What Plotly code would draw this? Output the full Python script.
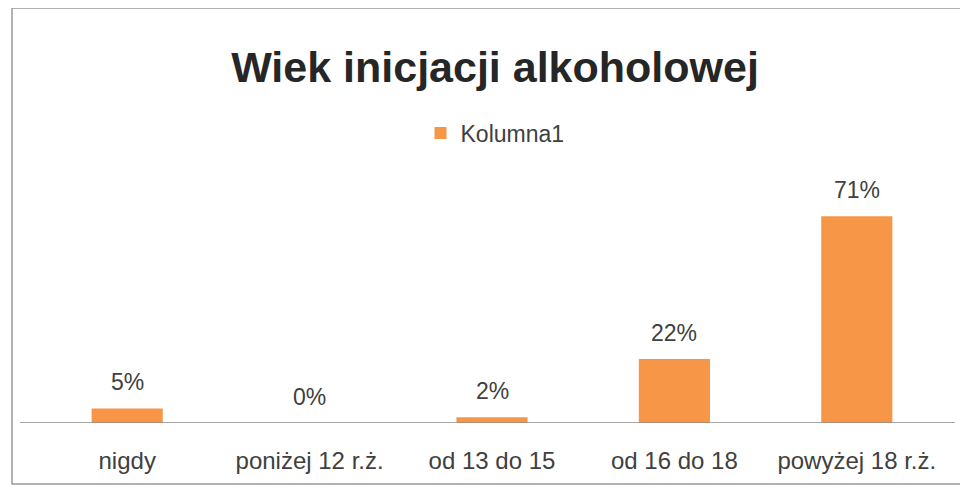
import plotly.graph_objects as go

categories = ["nigdy", "poniżej 12 r.ż.", "od 13 do 15", "od 16 do 18", "powyżej 18 r.ż."]
values = [5, 0, 2, 22, 71]
labels = ["5%", "0%", "2%", "22%", "71%"]
series_name = "Kolumna1"
title_text = "Wiek inicjacji alkoholowej"

# page body has an 8px margin, so the figure is drawn 8px in from the top-left
W, H = 960, 480
L, R, T, B = 28, 20, 182, 65
pw, ph = W - L - R, H - T - B
FONT = "Liberation Sans, Arial, sans-serif"

def px_x(x):
    return (x - L) / pw

def px_y(y):
    return (H - B - y) / ph

fig = go.Figure()
fig.add_trace(go.Bar(
    x=categories, y=values, name=series_name,
    marker=dict(color="#F79646", line=dict(width=0)),
    width=0.39,
    showlegend=True,
))

for c, v, t in zip(categories, values, labels):
    fig.add_annotation(x=c, y=v, text=t, showarrow=False, xref="x", yref="y",
                       yanchor="middle", yshift=26,
                       font=dict(family=FONT, size=23, color="#404040"))

fig.update_layout(
    width=W, height=H,
    margin=dict(l=L, r=R, t=T, b=B),
    paper_bgcolor="white", plot_bgcolor="white",
    title=dict(text="<b>" + title_text + "</b>", x=px_x(487), xref="paper", xanchor="center",
               y=1 - 59 / H, yref="container", yanchor="middle",
               font=dict(family=FONT, size=43, color="#262626")),
    legend=dict(orientation="h", x=px_x(487), xanchor="center", y=1 - 125 / H, yref="container",
                yanchor="middle", font=dict(family=FONT, size=23, color="#404040"),
                bgcolor="rgba(0,0,0,0)", itemwidth=30),
    xaxis=dict(showgrid=False, showline=False, zeroline=False, ticks="outside", ticklen=16,
               tickcolor="rgba(0,0,0,0)",
               tickfont=dict(family=FONT, size=24, color="#404040")),
    yaxis=dict(range=[0, 80], showgrid=False, showline=False, zeroline=False, showticklabels=False),
    bargap=0.61,
    shapes=[
        dict(type="line", xref="paper", yref="y", x0=px_x(12), x1=px_x(947), y0=0, y1=0,
             line=dict(color="#8C8C8C", width=1.5), layer="above"),
        dict(type="rect", xref="paper", yref="paper", x0=px_x(4), x1=px_x(954), y0=px_y(476), y1=px_y(0),
             line=dict(color="#9A9A9A", width=1.5), fillcolor="rgba(0,0,0,0)"),
    ],
)

fig.write_html("out.html")
